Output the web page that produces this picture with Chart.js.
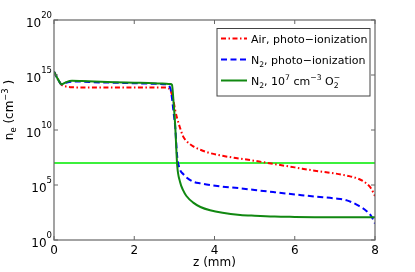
<!doctype html>
<html lang="en">
  <head>
    <meta charset="utf-8">
    <title>Electron density</title>
    <style>
      * { margin: 0; padding: 0; }
      body { background: #fff; }
      canvas { display: block; }
    </style>
  </head>
  <body>
    <canvas id="myChart" width="415" height="272"></canvas>
    <script src="https://cdn.jsdelivr.net/npm/chart.js/dist/chart.umd.min.js"></script>
    <script>
    // data (z in mm, n_e in cm^-3)
    const z = [0, 0.1, 0.19, 0.3, 0.45, 0.7, 1, 1.5, 2, 2.5,
               2.8, 2.9, 2.94, 2.98, 3.02, 3.07, 3.14, 3.22, 3.3, 3.47,
               3.65, 3.89, 4.2, 4.64, 5, 5.5, 6, 6.5, 7, 7.3,
               7.6, 7.8, 7.9, 8];
    const airPhoto = [2e15, 4e14, 1.26e14, 8.9e13, 7.6e13, 7.4e13, 7.4e13, 7.2e13, 7.2e13, 7.2e13,
                      7.2e13, 4e13, 1.6e13, 4e12, 6.3e11, 1.1e11, 1.6e10, 2.5e9, 1e9, 3.2e8,
                      1.6e8, 7.9e7, 4.5e7, 2.5e7, 1.6e7, 7.9e6, 4e6, 2e6, 1.12e6, 7.1e5,
                      3.5e5, 1.26e5, 5e4, 1e4];
    const n2Photo = [2e15, 4e14, 1.41e14, 2e14, 2.5e14, 2.5e14, 2.2e14, 2e14, 1.8e14, 1.6e14,
                     1.4e14, 6.3e13, 7.9e12, 4e11, 2e10, 4e7, 2.5e6, 1e6, 5e5, 2e5,
                     1.4e5, 1e5, 7.1e4, 5e4, 3.5e4, 2.2e4, 1.4e4, 8.9e3, 6e3, 4e3,
                     1.26e3, 4e2, 1.6e2, 32];
    const n2O2 = [2e15, 4e14, 1.41e14, 2.2e14, 3e14, 2.8e14, 2.5e14, 2.2e14, 2e14, 1.8e14,
                  1.6e14, 1.5e14, 1.26e14, 3.2e12, 2.8e10, 6.3e6, 2e5, 3.2e4, 1e4, 2.5e3,
                  1e3, 5e2, 2.95e2, 1.9e2, 1.6e2, 1.35e2, 1.26e2, 1.2e2, 1.17e2, 1.17e2,
                  1.17e2, 1.17e2, 1.17e2, 1.17e2];
    const refZ = [0, 8];
    const refN = [1e7, 1e7];

    const xTicks = [0, 2, 4, 6, 8];
    const yTicks = [1, 1e5, 1e10, 1e15, 1e20];
    const yTickExp = ['0', '5', '10', '15', '20'];

    const FONT = '"DejaVu Sans", sans-serif';

    function pts(xs, ys) {
      return xs.map((v, i) => ({x: v, y: ys[i]}));
    }

    // draws text pieces: [text, shift, noAdvance]; shift 1 = sup, -1 = sub
    function rich(ctx, parts, x, y, size, measureOnly) {
      let cx = x;
      parts.forEach(p => {
        const s = p[1];
        const fs = s === 0 ? size : size * 0.7;
        ctx.font = fs + 'px ' + FONT;
        const dy = s === 1 ? -size * 0.42 : (s === -1 ? size * 0.28 : 0);
        if (!measureOnly) ctx.fillText(p[0], cx, y + dy);
        if (!p[2]) cx += ctx.measureText(p[0]).width;
      });
      return cx - x;
    }

    const legendRows = [
      {ds: 0, parts: [['Air, photo\u2212ionization', 0]]},
      {ds: 1, parts: [['N', 0], ['2', -1], [', photo\u2212ionization', 0]]},
      {ds: 2, parts: [['N', 0], ['2', -1], [', 10', 0], ['7', 1], [' cm', 0], ['\u22123', 1], [' O', 0], ['\u2212', 1, true], ['2', -1]]}
    ];

    const decorations = {
      id: 'decorations',
      afterDraw(chart) {
        const {ctx, chartArea: {left, right, top, bottom}, scales: {x, y}} = chart;
        ctx.save();

        // frame
        ctx.strokeStyle = '#666';
        ctx.lineWidth = 1.2;
        ctx.strokeRect(left, top, right - left, bottom - top);

        // inward ticks on all sides
        ctx.lineWidth = 1;
        ctx.beginPath();
        xTicks.forEach(v => {
          const px = x.getPixelForValue(v);
          ctx.moveTo(px, bottom); ctx.lineTo(px, bottom - 4);
          ctx.moveTo(px, top); ctx.lineTo(px, top + 4);
        });
        yTicks.forEach(v => {
          const py = y.getPixelForValue(v);
          ctx.moveTo(left, py); ctx.lineTo(left + 4, py);
          ctx.moveTo(right, py); ctx.lineTo(right - 4, py);
        });
        ctx.stroke();

        // y tick labels 10^n
        ctx.fillStyle = '#000';
        ctx.textBaseline = 'alphabetic';
        ctx.textAlign = 'right';
        yTicks.forEach((v, i) => {
          const py = y.getPixelForValue(v);
          ctx.font = '8.5px ' + FONT;
          const ew = ctx.measureText(yTickExp[i]).width;
          ctx.fillText(yTickExp[i], left - 2, py - 2);
          ctx.font = '12px ' + FONT;
          ctx.fillText('10', left - 2 - ew, py + 7);
        });

        // y axis title
        ctx.textAlign = 'left';
        const yTitle = [['n', 0], ['e', -1], [' (cm', 0], ['\u22123', 1], [' )', 0]];
        ctx.translate(13, 110);
        ctx.rotate(-Math.PI / 2);
        const tw = rich(ctx, yTitle, 0, 0, 12, true);
        rich(ctx, yTitle, -tw / 2, 0, 12);
        ctx.setTransform(1, 0, 0, 1, 0, 0);

        // legend box
        const bx = 217, by = 28.5, bw = 153, bh = 67.5;
        ctx.fillStyle = '#fff';
        ctx.fillRect(bx, by, bw, bh);
        ctx.strokeStyle = '#444';
        ctx.lineWidth = 1;
        ctx.strokeRect(bx, by, bw, bh);
        const rowY = [38.5, 59.5, 80.5];
        legendRows.forEach((row, i) => {
          const ds = chart.data.datasets[row.ds];
          ctx.strokeStyle = ds.borderColor;
          ctx.lineWidth = ds.borderWidth;
          ctx.setLineDash(ds.borderDash || []);
          ctx.beginPath();
          ctx.moveTo(221, rowY[i]);
          ctx.lineTo(247, rowY[i]);
          ctx.stroke();
          ctx.setLineDash([]);
          ctx.fillStyle = '#000';
          rich(ctx, row.parts, 251, rowY[i] + 4, 11);
        });

        ctx.restore();
      }
    };

    const config = {
      type: 'line',
      data: {
        datasets: [
          {label: 'Air, photo-ionization', data: pts(z, airPhoto), borderColor: '#ff0000',
           borderWidth: 2, borderDash: [5, 2.5, 1.5, 2.5], order: 3},
          {label: 'N2, photo-ionization', data: pts(z, n2Photo), borderColor: '#0000ff',
           borderWidth: 2, borderDash: [6, 3.5], order: 2},
          {label: 'N2, 1e7 cm-3 O2-', data: pts(z, n2O2), borderColor: '#118811',
           borderWidth: 2, order: 1},
          {label: 'ref', data: pts(refZ, refN), borderColor: '#3cf03c',
           borderWidth: 2, order: 4}
        ]
      },
      options: {
        responsive: false,
        animation: false,
        layout: {padding: {top: 20, right: 40, left: 0, bottom: 0}},
        elements: {
          point: {radius: 0},
          line: {cubicInterpolationMode: 'monotone', fill: false}
        },
        plugins: {legend: {display: false}, tooltip: {enabled: false}},
        scales: {
          x: {
            type: 'linear', min: 0, max: 8,
            grid: {display: false, drawTicks: false},
            border: {display: false},
            afterBuildTicks: s => { s.ticks = xTicks.map(v => ({value: v})); },
            afterFit: s => { s.height = 32; },
            ticks: {color: '#000', padding: 4, maxRotation: 0, font: {family: FONT, size: 12}},
            title: {display: true, text: 'z (mm)', color: '#000', padding: {top: 0, bottom: 2},
                    font: {family: FONT, size: 12}}
          },
          y: {
            type: 'logarithmic', min: 1, max: 1e20,
            grid: {display: false, drawTicks: false},
            border: {display: false},
            afterBuildTicks: s => { s.ticks = yTicks.map(v => ({value: v})); },
            afterFit: s => { s.width = 54; },
            ticks: {display: false}
          }
        }
      },
      plugins: [decorations]
    };

    const myChart = new Chart(document.getElementById('myChart'), config);
    </script>
  </body>
</html>
